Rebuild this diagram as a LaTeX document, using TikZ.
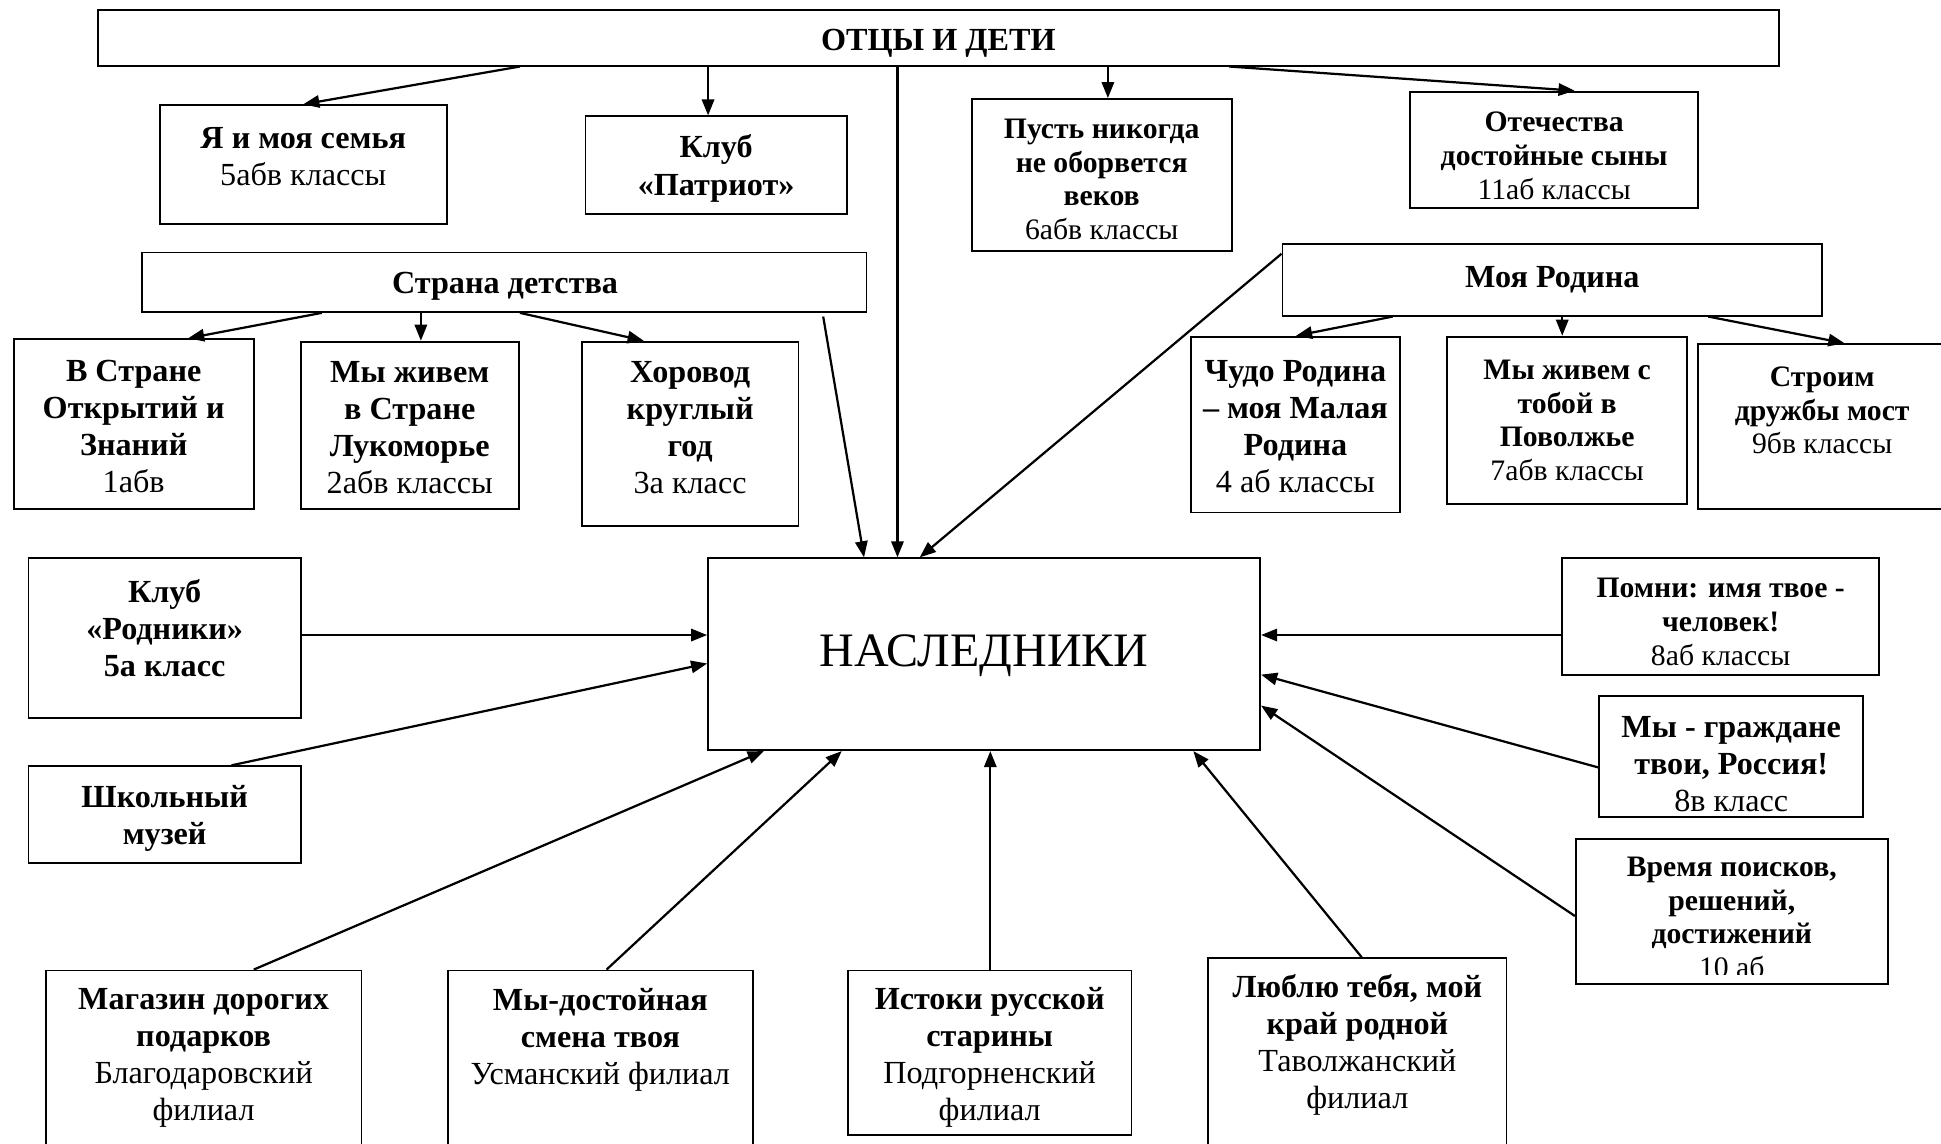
\documentclass[tikz,border=0pt]{standalone}
\usepackage{fontspec}
\setmainfont{Liberation Serif}
\usetikzlibrary{arrows.meta,fit}
\tikzset{
  bx/.style={draw, line width=0.75pt, inner sep=0pt},
  arr/.style={-{Triangle[length=6.5pt,width=5pt]}, line width=0.9pt},
  tl/.style={align=center, inner sep=0pt, font=\fontsize{13}{15}\selectfont},
  ts/.style={align=center, inner sep=0pt, font=\fontsize{12}{13.6}\selectfont},
  tbig/.style={inner sep=0pt, font=\fontsize{19.4}{22}\selectfont},
}
\newcommand\mybox[5]{\node[bx, fit={(#2,#3) (#4,#5)}] (#1) {};}
\begin{document}
\begin{tikzpicture}[x=0.5pt,y=-0.5pt]
\useasboundingbox (0,0) rectangle (1568,924);
% boxes
\mybox{title}{79}{8}{1437}{53}
\mybox{ya}{129}{85}{361}{181}
\mybox{pat}{473}{94}{684}{173}
\mybox{pust}{785}{80}{995}{203}
\mybox{otech}{1139}{74}{1372}{168}
\mybox{sd}{115}{204}{700}{252}
\mybox{mr}{1036}{197}{1472}{255}
\mybox{vs}{11}{274}{205}{411}
\mybox{lk}{243}{276}{419}{411}
\mybox{hor}{470}{276}{645}{425}
\mybox{chudo}{962}{272}{1131}{414}
\mybox{povol}{1169}{272}{1363}{407}
\mybox{stroim}{1372}{278}{1575}{411}
\mybox{nasl}{572}{451}{1018}{606}
\mybox{rod}{23}{451}{243}{580}
\mybox{shk}{23}{619}{243}{697}
\mybox{pomni}{1262}{451}{1518}{545}
\mybox{grazh}{1292}{562}{1505}{660}
\mybox{vrem}{1273}{678}{1525}{795}
\mybox{mag}{37}{784}{292}{940}
\mybox{dost}{362}{784}{608}{940}
\mybox{ist}{685}{784}{914}{917}
\mybox{lub}{976}{774}{1217}{940}
% texts
\node[tl] (t-title) at (758,35) {\textbf{ОТЦЫ И ДЕТИ}};
\node[tl] (t-ya) at (245,126.5) {\textbf{Я и моя семья}\\5абв классы};
\node[tl] (t-pat) at (578.5,136) {\textbf{Клуб}\\\textbf{«Патриот»}};
\node[ts] (t-pust) at (890,145) {\textbf{Пусть никогда}\\\textbf{не оборвется}\\\textbf{веков}\\6абв классы};
\node[ts] (t-otech) at (1255.5,126) {\textbf{Отечества}\\\textbf{достойные сыны}\\11аб классы};
\node[tl] (t-sd) at (408,231) {\textbf{Страна детства}};
\node[tl] (t-mr) at (1254,226) {\textbf{Моя Родина}};
\node[tl] (t-vs) at (108,344.5) {\textbf{В Стране}\\\textbf{Открытий и}\\\textbf{Знаний}\\1абв};
\node[tl] (t-lk) at (331,345.5) {\textbf{Мы живем}\\\textbf{в Стране}\\\textbf{Лукоморье}\\2абв классы};
\node[tl] (t-hor) at (557.5,345.5) {\textbf{Хоровод}\\\textbf{круглый}\\\textbf{год}\\3а класс};
\node[tl] (t-chudo) at (1046.5,344.5) {\textbf{Чудо Родина}\\\textbf{– моя Малая}\\\textbf{Родина}\\4 аб классы};
\node[ts] (t-povol) at (1266,339.5) {\textbf{Мы живем с}\\\textbf{тобой в}\\\textbf{Поволжье}\\7абв классы};
\node[ts] (t-stroim) at (1472,331.5) {\textbf{Строим}\\\textbf{дружбы мост}\\9бв классы};
\node[tbig] (t-nasl) at (795,530) {НАСЛЕДНИКИ};
\node[tl] (t-rod) at (133,507.5) {\textbf{Клуб}\\\textbf{«Родники»}\\\textbf{5а класс}};
\node[tl] (t-shk) at (133,661) {\textbf{Школьный}\\\textbf{музей}};
\node[ts] (t-pomni) at (1390,502.5) {\textbf{Помни: имя твое -}\\\textbf{человек!}\\8аб классы};
\node[tl] (t-grazh) at (1398.5,617) {\textbf{Мы - граждане}\\\textbf{твои, Россия!}\\8в класс};
\begin{scope}
\clip (1273,678) rectangle (1525,787);
\node[ts] (t-vrem) at (1399,741) {\textbf{Время поисков,}\\\textbf{решений,}\\\textbf{достижений}\\10 аб};
\end{scope}
\node[tl] (t-mag) at (164.5,854.5) {\textbf{Магазин дорогих}\\\textbf{подарков}\\Благодаровский\\филиал};
\node[tl] (t-dost) at (485,840) {\textbf{Мы-достойная}\\\textbf{смена твоя}\\Усманский филиал};
\node[tl] (t-ist) at (799.5,854) {\textbf{Истоки русской}\\\textbf{старины}\\Подгорненский\\филиал};
\node[tl] (t-lub) at (1096.5,844) {\textbf{Люблю тебя, мой}\\\textbf{край родной}\\Таволжанский\\филиал};
% connectors
\draw[arr] (420,0 |- title.south) -- (245,0 |- ya.north);
\draw[arr] (572,0 |- title.south) -- (572,0 |- pat.north);
\draw[arr] (725,0 |- title.south) -- (725,0 |- nasl.north);
\draw[arr] (895,0 |- title.south) -- (895,0 |- pust.north);
\draw[arr] (993,0 |- title.south) -- (1272,0 |- otech.north);
\draw[arr] (260,0 |- sd.south) -- (152,0 |- vs.north);
\draw[arr] (340,0 |- sd.south) -- (340,0 |- lk.north);
\draw[arr] (420,0 |- sd.south) -- (520,0 |- hor.north);
\draw[arr] ([yshift=-1.5pt]665,0 |- sd.south) -- (698,0 |- nasl.north);
\draw[arr] (mr.west |- 0,205) -- (743,0 |- nasl.north);
\draw[arr] (1125,0 |- mr.south) -- (1047,0 |- chudo.north);
\draw[arr] (1262,0 |- mr.south) -- (1262,0 |- povol.north);
\draw[arr] (1380,0 |- mr.south) -- (1490,0 |- stroim.north);
\draw[arr] (rod.east |- 0,513) -- (nasl.west |- 0,513);
\draw[arr] (187,0 |- shk.north) -- (nasl.west |- 0,536);
\draw[arr] (205,0 |- mag.north) -- (617,0 |- nasl.south);
\draw[arr] (490,0 |- dost.north) -- (680,0 |- nasl.south);
\draw[arr] (800,0 |- ist.north) -- (800,0 |- nasl.south);
\draw[arr] (1100,0 |- lub.north) -- (964,0 |- nasl.south);
\draw[arr] (pomni.west |- 0,513) -- (nasl.east |- 0,513);
\draw[arr] (grazh.west |- 0,620) -- (nasl.east |- 0,545);
\draw[arr] (vrem.west |- 0,740) -- (nasl.east |- 0,570);
\end{tikzpicture}
\end{document}
